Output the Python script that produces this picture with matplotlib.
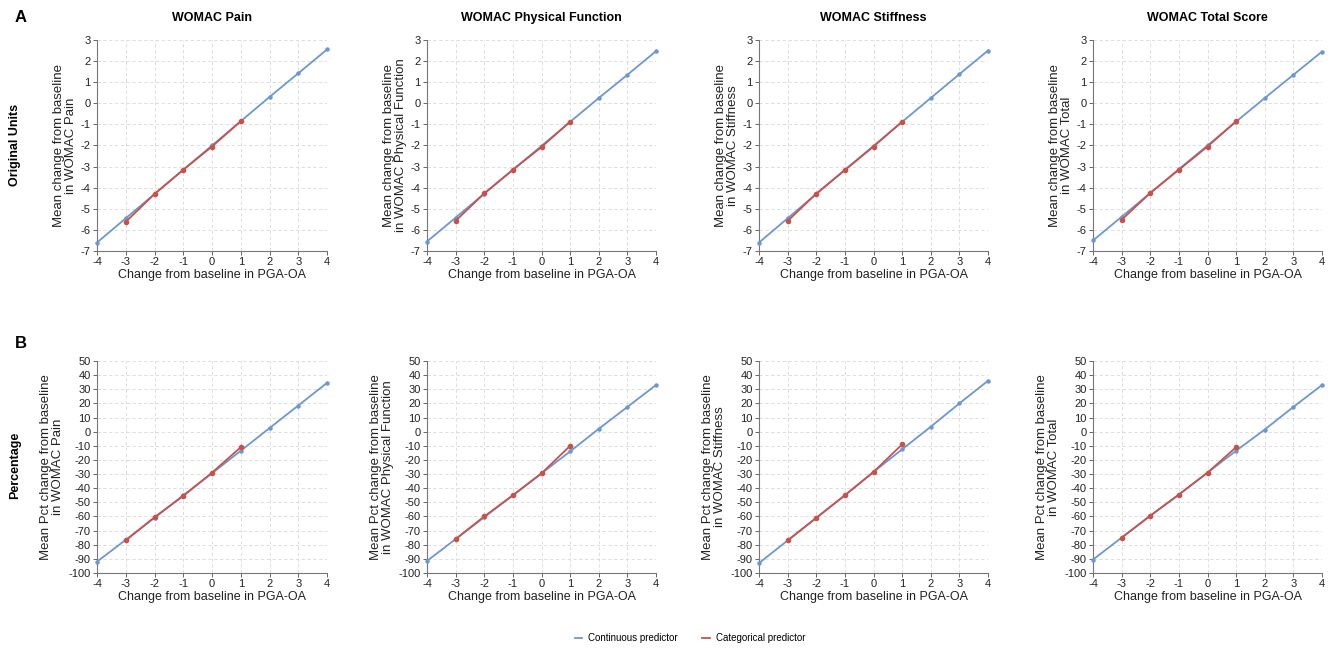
import numpy as np
import matplotlib
matplotlib.use('Agg')
import matplotlib.pyplot as plt
from matplotlib.lines import Line2D

plt.rcParams['font.family'] = ['Liberation Sans', 'DejaVu Sans']
plt.rcParams['axes.unicode_minus'] = False

# --- data ---
X_CONT = [-4, -3, -2, -1, 0, 1, 2, 3, 4]
X_CAT = [-3, -2, -1, 0, 1]

TITLES = ['WOMAC Pain', 'WOMAC Physical Function', 'WOMAC Stiffness',
          'WOMAC Total Score']
YNAMES = ['WOMAC Pain', 'WOMAC Physical Function', 'WOMAC Stiffness',
          'WOMAC Total']

# row A: original units
orig_cont_pain = [-6.6, -5.45, -4.3, -3.15, -2.0, -0.85, 0.3, 1.42, 2.55]
orig_cont_pf = [-6.55, -5.42, -4.28, -3.15, -2.02, -0.88, 0.25, 1.35, 2.47]
orig_cont_stiff = [-6.6, -5.45, -4.3, -3.15, -2.02, -0.88, 0.25, 1.38, 2.5]
orig_cont_total = [-6.5, -5.38, -4.25, -3.12, -2.0, -0.87, 0.25, 1.35, 2.45]
orig_cat_pain = [-5.62, -4.3, -3.15, -2.05, -0.85]
orig_cat_pf = [-5.57, -4.27, -3.15, -2.07, -0.87]
orig_cat_stiff = [-5.58, -4.28, -3.17, -2.05, -0.87]
orig_cat_total = [-5.52, -4.25, -3.15, -2.05, -0.85]

# row B: percentage
pct_cont_pain = [-92, -76.5, -61, -45, -29.5, -13.5, 2.5, 18.5, 34.5]
pct_cont_pf = [-91.5, -76, -60.5, -45, -29.5, -14, 2, 17.5, 33]
pct_cont_stiff = [-93, -77, -61, -45, -28.5, -12.5, 3.5, 20, 36]
pct_cont_total = [-90.5, -75, -59.5, -44.5, -29, -13.5, 1.5, 17.5, 33]
pct_cat_pain = [-77, -60.5, -45.5, -29, -11]
pct_cat_pf = [-76, -60, -45, -29.5, -10]
pct_cat_stiff = [-77, -61, -45, -28.5, -9]
pct_cat_total = [-75, -59.5, -44.5, -29, -11]

ORIG_CONT = [orig_cont_pain, orig_cont_pf, orig_cont_stiff, orig_cont_total]
ORIG_CAT = [orig_cat_pain, orig_cat_pf, orig_cat_stiff, orig_cat_total]
PCT_CONT = [pct_cont_pain, pct_cont_pf, pct_cont_stiff, pct_cont_total]
PCT_CAT = [pct_cat_pain, pct_cat_pf, pct_cat_stiff, pct_cat_total]

BLUE = '#6b97d4'
RED = '#c8524a'
W, H = 1336, 650

# axes boxes in pixels (left, right) per column, (top, bottom) per row
COLS = [(97, 327), (427, 656), (759, 988), (1093, 1322)]
ROWS = [(40, 251), (361, 573)]


def style_axes(ax, ylim, yticks):
    ax.set_xlim(-4, 4)
    ax.set_ylim(*ylim)
    ax.set_xticks(X_CONT)
    ax.set_yticks(yticks)
    ax.tick_params(labelsize=8, length=3, width=0.7, color='#666666',
                   pad=1.5, labelcolor='#222222')
    for s in ['top', 'right']:
        ax.spines[s].set_visible(False)
    for s in ['left', 'bottom']:
        ax.spines[s].set_color('#777777')
        ax.spines[s].set_linewidth(0.8)
    ax.grid(True, ls=(0, (4, 3)), color='#d8d8d8', lw=0.6)
    ax.set_axisbelow(True)


fig = plt.figure(figsize=(W / 100, H / 100), dpi=100)

for r, (top, bot) in enumerate(ROWS):
    for c, (left, right) in enumerate(COLS):
        ax = fig.add_axes([left / W, 1 - bot / H, (right - left) / W,
                           (bot - top) / H])
        if r == 0:
            cont, cat = ORIG_CONT[c], ORIG_CAT[c]
            style_axes(ax, (-7, 3), np.arange(-7, 4, 1))
            ylabel = f'Mean change from baseline\nin {YNAMES[c]}'
        else:
            cont, cat = PCT_CONT[c], PCT_CAT[c]
            style_axes(ax, (-100, 50), np.arange(-100, 51, 10))
            ylabel = f'Mean Pct change from baseline\nin {YNAMES[c]}'
        ax.plot(X_CONT, cont, color=BLUE, lw=1.3, marker='o', ms=2.2,
                zorder=3, clip_on=False)
        ax.plot(X_CAT, cat, color=RED, lw=1.3, marker='o', ms=3,
                zorder=4, clip_on=False)
        ax.set_ylabel(ylabel, fontsize=9.5, labelpad=3, color='#222222',
                      linespacing=1.0)
        ax.set_xlabel('Change from baseline in PGA-OA', fontsize=9,
                      labelpad=1, color='#222222')
        if r == 0:
            ax.set_title(TITLES[c], fontsize=9, fontweight='bold', pad=14)

fig.text(15 / W, 1 - 18 / H, 'A', fontsize=12, fontweight='bold',
         va='center', ha='left')
fig.text(15 / W, 1 - 343 / H, 'B', fontsize=12, fontweight='bold',
         va='center', ha='left')
fig.text(15 / W, 1 - 145 / H, 'Original Units', fontsize=9,
         fontweight='bold', rotation=90, va='center', ha='center')
fig.text(15 / W, 1 - 465 / H, 'Percentage', fontsize=9,
         fontweight='bold', rotation=90, va='center', ha='center')

handles = [Line2D([], [], color=BLUE, lw=1.3),
           Line2D([], [], color=RED, lw=1.3)]
fig.legend(handles, ['Continuous predictor', 'Categorical predictor'],
           loc='center', bbox_to_anchor=(690 / W, 1 - 638 / H), ncol=2,
           frameon=False, fontsize=7, handlelength=0.8, columnspacing=2.5,
           handletextpad=0.6)

fig.savefig('out.png', dpi=100)
